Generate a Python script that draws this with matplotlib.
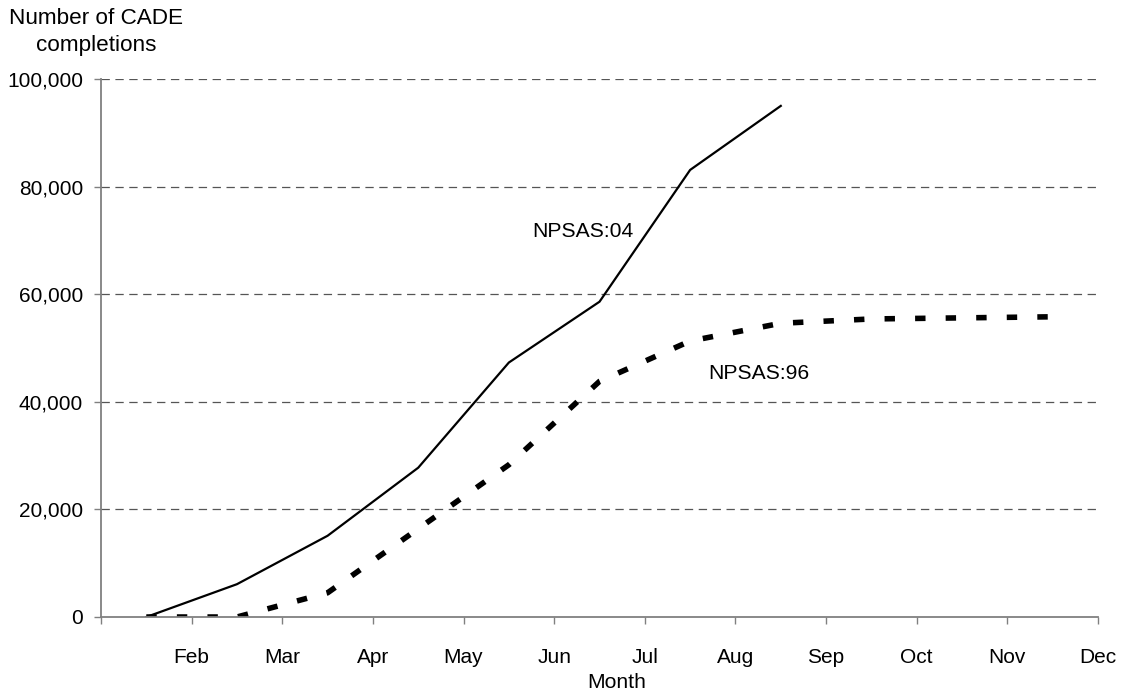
import matplotlib

matplotlib.use("Agg")
import matplotlib.pyplot as plt
from matplotlib.ticker import FuncFormatter

# month labels under the tick marks (data points sit half-way between ticks)
tick_labels = ["Feb", "Mar", "Apr", "May", "Jun", "Jul", "Aug", "Sep", "Oct", "Nov", "Dec"]
npsas04 = [0, 6100, 15100, 27750, 47300, 58600, 83100, 95000]
npsas96 = [0, 0, 4500, 16400, 28300, 43800, 51300, 54600, 55400, 55600, 55800]
y_ticks = [0, 20000, 40000, 60000, 80000, 100000]

plt.rcParams["font.family"] = ["Liberation Sans", "DejaVu Sans"]
plt.rcParams["lines.scale_dashes"] = False

W, H = 1122, 696
fig = plt.figure(figsize=(W / 100, H / 100), dpi=100)
ax = fig.add_axes([101 / W, 1 - 617 / H, (1098 - 101) / W, (617 - 79) / H])

x04 = [i + 0.5 for i in range(len(npsas04))]
x96 = [i + 0.5 for i in range(len(npsas96))]
ax.plot(x04, npsas04, color="black", lw=1.6, solid_joinstyle="miter")
ax.plot(x96, npsas96, color="black", lw=4.0, dashes=(7.5, 14.5), dash_capstyle="butt")

ax.set_xlim(0, len(tick_labels))
ax.set_ylim(0, 100000)
ax.set_xticks(range(len(tick_labels) + 1))
ax.set_xticklabels([""] + tick_labels)
ax.set_yticks(y_ticks)
ax.yaxis.set_major_formatter(FuncFormatter(lambda v, _: f"{int(v):,}"))

for v in y_ticks[1:]:
    ax.axhline(v, color="#555555", lw=0.9, dashes=(6, 4), zorder=0)

for side in ("top", "right"):
    ax.spines[side].set_visible(False)
for side in ("left", "bottom"):
    ax.spines[side].set_color("#808080")
    ax.spines[side].set_linewidth(1.3)
ax.tick_params(axis="both", colors="#808080", labelcolor="black", labelsize=15, width=1, length=5)
ax.tick_params(axis="x", pad=17)
ax.tick_params(axis="y", pad=8)

ax.text(4.76, 71700, "NPSAS:04", fontsize=15.2, ha="left", va="center")
ax.text(6.70, 45200, "NPSAS:96", fontsize=15.2, ha="left", va="center")

fig.text(96 / W, 1 - 18 / H, "Number of CADE", fontsize=16.2, ha="center", va="center")
fig.text(96 / W, 1 - 45 / H, "completions", fontsize=16.2, ha="center", va="center")
fig.text(617 / W, 1 - 683 / H, "Month", fontsize=15.2, ha="center", va="center")

fig.savefig("out.png", dpi=100)
